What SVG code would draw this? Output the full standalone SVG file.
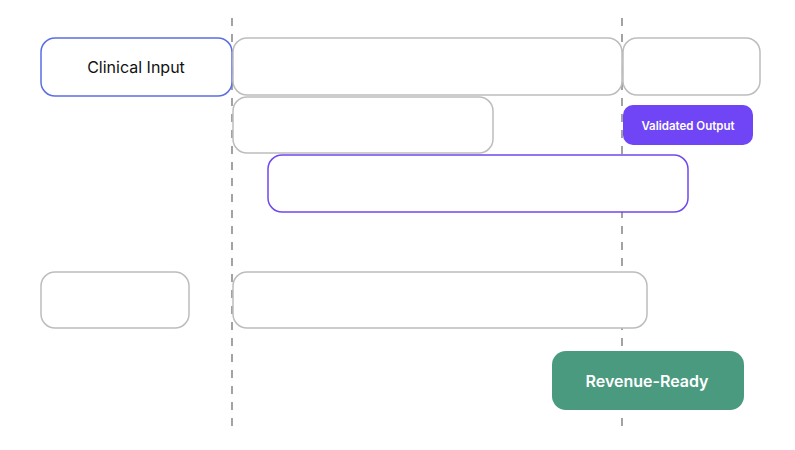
<svg xmlns="http://www.w3.org/2000/svg" width="795" height="450" viewBox="0 0 795 450">
<style>
.g{fill:#fff;stroke:#bdbdbd;stroke-width:1.5}
.t{font-family:Inter,"Liberation Sans",sans-serif}
.d{stroke:#666;stroke-width:1.2;stroke-dasharray:8 8}
</style>
<rect width="795" height="450" fill="#fff"/>
<g id="connectors">
<line class="d" x1="232" y1="18" x2="232" y2="432"/>
<line class="d" x1="622" y1="18" x2="622" y2="432"/>
</g>
<g id="n-clinical"><rect x="41" y="38" width="191" height="58" rx="14" fill="#fff" stroke="#5b6ee1" stroke-width="1.5"/><text class="t" x="136" y="73" text-anchor="middle" font-size="16" fill="#111">Clinical Input</text></g>
<g id="n-b1"><rect class="g" x="233" y="38" width="389" height="57" rx="14"/></g>
<g id="n-b2"><rect class="g" x="623" y="38" width="137" height="57" rx="14"/></g>
<g id="n-b3"><rect class="g" x="233" y="97" width="260" height="56" rx="14"/></g>
<g id="n-validated"><rect x="623" y="105" width="130" height="40" rx="10" fill="#6f45f5"/><text class="t" x="688" y="130" text-anchor="middle" font-size="11.5" font-weight="600" fill="#fff">Validated Output</text></g>
<g id="n-b4"><rect x="268" y="155" width="420" height="57" rx="14" fill="#fff" stroke="#7048f0" stroke-width="1.5"/></g>
<g id="n-b5"><rect class="g" x="41" y="272" width="148" height="56" rx="14"/></g>
<g id="n-b6"><rect class="g" x="233" y="272" width="414" height="56" rx="14"/></g>
<g id="n-revenue"><rect x="552" y="351" width="192" height="59" rx="14" fill="#4a9a80"/><text class="t" x="647" y="387" text-anchor="middle" font-size="16" font-weight="600" fill="#fff">Revenue-Ready</text></g>
</svg>
